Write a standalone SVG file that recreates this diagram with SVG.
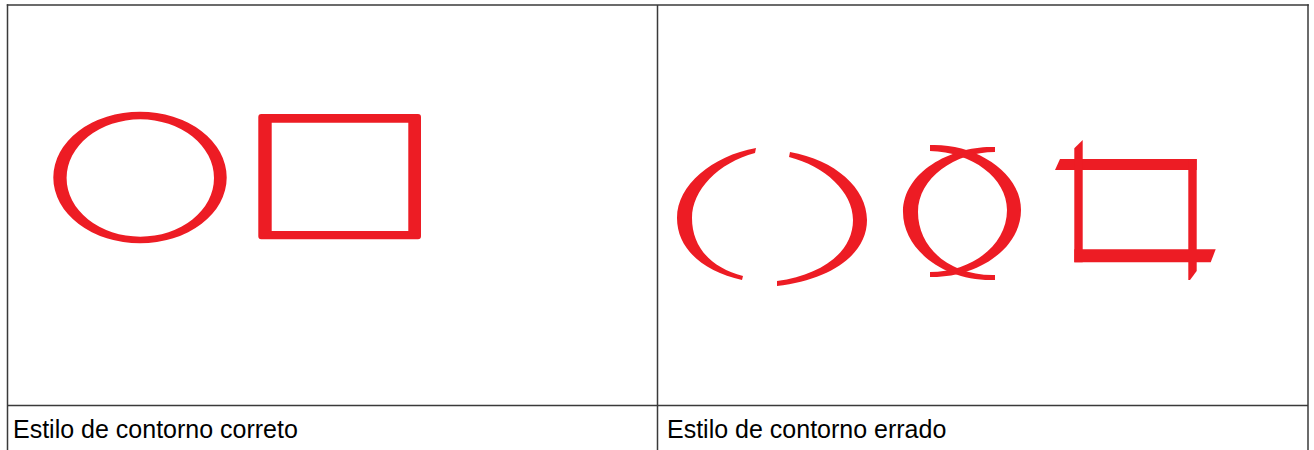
<svg xmlns="http://www.w3.org/2000/svg" width="1314" height="450" viewBox="0 0 1314 450">
  <style>
    .grid { stroke: #3a3a3a; stroke-width: 1.5; fill: none; }
    .ink { fill: #ED1C24; stroke: none; }
    .cap { font-family: "Liberation Sans", Arial, sans-serif; font-size: 25px; fill: #000000; }
  </style>
  <rect x="0" y="0" width="1314" height="450" fill="#ffffff"/>
  <g id="table">
    <line class="grid" x1="6.8" y1="5" x2="1308.8" y2="5"/>
    <line class="grid" x1="7.5" y1="4.3" x2="7.5" y2="450"/>
    <line class="grid" x1="1308" y1="4.3" x2="1308" y2="450"/>
    <line class="grid" x1="657.5" y1="5" x2="657.5" y2="450"/>
    <line class="grid" x1="7.5" y1="405.5" x2="1308" y2="405.5"/>
  </g>
  <g id="correct-ellipse">
    <path class="ink" fill-rule="evenodd" d="M 53.3 177.5 A 86.7 65.7 0 1 0 226.7 177.5 A 86.7 65.7 0 1 0 53.3 177.5 Z M 66.6 178 A 73.7 58.7 0 1 0 214 178 A 73.7 58.7 0 1 0 66.6 178 Z"/>
  </g>
  <g id="correct-rectangle">
    <path class="ink" fill-rule="evenodd" d="M 261.3 114 L 418 114 Q 421 114 421 117 L 421 236.3 Q 421 239.3 418 239.3 L 261.3 239.3 Q 258.3 239.3 258.3 236.3 L 258.3 117 Q 258.3 114 261.3 114 Z M 271.7 122.7 L 271.7 231 L 408.3 231 L 408.3 122.7 Z"/>
  </g>
  <g id="wrong-open-ellipse">
    <path class="ink" d="M 756 148 C 712 156 677 185 677 218 C 677 250 705 272 742 280 L 743 276 C 712 268 692 248 692 218 C 692 190 718 163 755 153 Z"/>
    <path class="ink" d="M 790 152 C 835 160 867 188 867 220 C 867 255 830 280 777 286 L 777 281 C 822 275 853 252 853 220 C 853 192 825 166 789 157 Z"/>
  </g>
  <g id="wrong-crossed-ellipse">
    <path class="ink" d="M 995 147 C 955 145 903 170 903 212 C 903 250 945 282 995 280 L 995 275 C 950 276 918 248 918 212 C 918 178 955 152 995 152 Z"/>
    <path class="ink" d="M 930 145 C 975 143 1021 172 1021 210 C 1021 248 978 278 930 277 L 930 272 C 972 272 1007 245 1007 210 C 1007 178 972 152 930 151 Z"/>
  </g>
  <g id="wrong-crossed-rectangle">
    <path class="ink" d="M 1060 159 L 1196.7 159 L 1196.7 170 L 1055 170 Z"/>
    <path class="ink" d="M 1082.7 140 L 1082.7 262.3 L 1074.3 262.3 L 1074.3 148.3 Z"/>
    <path class="ink" d="M 1188.3 159 L 1196.7 159 L 1196.7 271 L 1190 280 L 1188.3 280 Z"/>
    <path class="ink" d="M 1074.3 249.3 L 1215.7 249.3 L 1210.7 262.3 L 1074.3 262.3 Z"/>
  </g>
  <g id="captions">
    <text class="cap" x="13" y="438">Estilo de contorno correto</text>
    <text class="cap" x="667" y="438">Estilo de contorno errado</text>
  </g>
</svg>
